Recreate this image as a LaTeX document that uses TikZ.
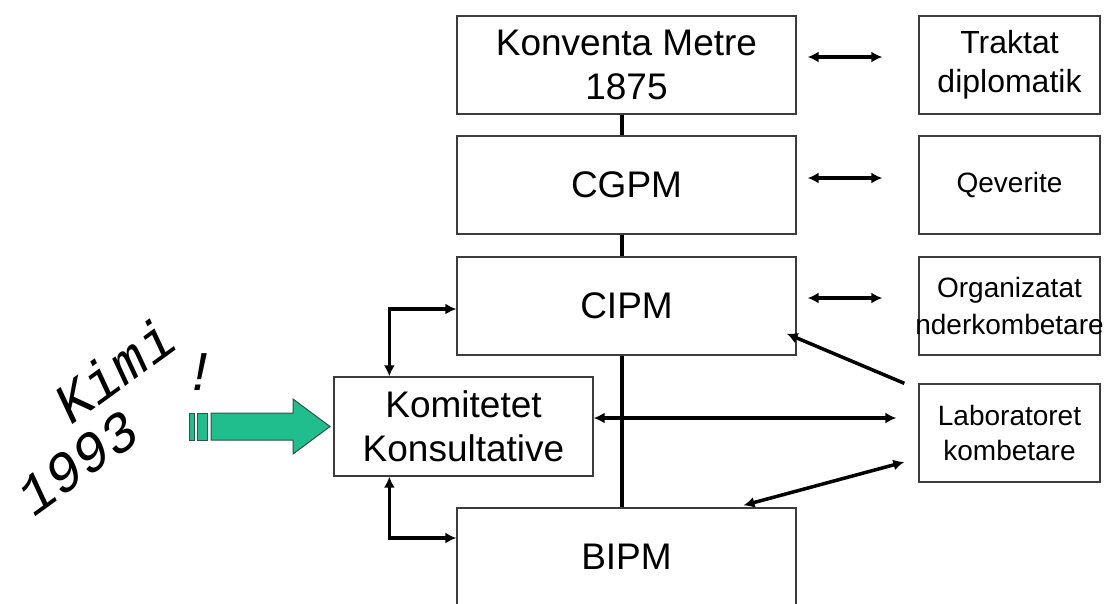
\documentclass[tikz,border=0pt]{standalone}
\usepackage{fontspec}
\setmainfont{Liberation Sans}
\newfontfamily\kimifont{Liberation Mono}
\usetikzlibrary{arrows.meta}
\definecolor{boxline}{RGB}{60,60,60}
\definecolor{kimigreen}{RGB}{32,190,140}
\definecolor{kimiedge}{RGB}{50,80,70}
\begin{document}
\begin{tikzpicture}[x=1pt,y=-1pt,
  box/.style={draw=boxline,line width=1.3pt,minimum width=339pt,minimum height=98pt,
    inner sep=0pt,align=center,font=\fontsize{37}{44}\selectfont},
  sidebox/.style={draw=boxline,line width=1.3pt,minimum width=181pt,minimum height=98pt,
    inner sep=0pt,align=center},
  link/.style={line width=3.5pt,{Latex[length=11pt,width=11pt]}-{Latex[length=11pt,width=11pt]}},
  spine/.style={line width=4pt},
  kimi/.style={rotate=36,inner sep=0pt,font=\kimifont\itshape\fontsize{56}{56}\selectfont}]

\useasboundingbox (0,0) rectangle (1106,603);
\clip (0,0) rectangle (1106,603);

% main column
\node[box] (konventa) at (626.5,65) {Konventa Metre\\1875};
\node[box] (cgpm) at (626.5,185) {CGPM};
\node[box] (cipm) at (626.5,306) {CIPM};
\node[box] (bipm) at (626.5,557) {BIPM};
\node[box,minimum width=259pt,minimum height=99pt] (komitetet) at (463.5,426.5) {Komitetet\\Konsultative};

% right column
\node[sidebox,font=\fontsize{32}{39}\selectfont] (traktat) at (1009.5,65) {Traktat\\diplomatik};
\node[sidebox,font=\fontsize{28}{34}\selectfont] (qeverite) at (1009.5,185) {Qeverite};
\node[sidebox,font=\fontsize{28}{37}\selectfont] (organizatat) at (1009.5,306) {Organizatat\\\makebox[0pt]{nderkombetare}};
\node[sidebox,font=\fontsize{28}{35}\selectfont] (laboratoret) at (1009.5,433) {Laboratoret\\kombetare};

\draw[spine] ([xshift=-5pt]konventa.south) -- ([xshift=-5pt]cgpm.north);
\draw[spine] ([xshift=-5pt]cgpm.south) -- ([xshift=-5pt]cipm.north);
\draw[spine] ([xshift=-5pt]cipm.south) -- ([xshift=-5pt]bipm.north);

\draw[link,shorten <=11pt,shorten >=36pt] ([yshift=8pt]konventa.east) -- ([yshift=8pt]traktat.west);
\draw[link,shorten <=11pt,shorten >=36pt] ([yshift=7pt]cgpm.east) -- ([yshift=7pt]qeverite.west);
\draw[link,shorten <=11pt,shorten >=36pt] ([yshift=8pt]cipm.east) -- ([yshift=8pt]organizatat.west);

\draw[link] ([xshift=56pt]komitetet.north west) |- ([yshift=-3pt]cipm.west);
\draw[link] ([xshift=56pt]komitetet.south west) |- ([yshift=19pt]bipm.west);
\draw[link,shorten >=22pt] ([yshift=8.5pt]komitetet.east) -- ([yshift=8.5pt]komitetet.east -| laboratoret.west);
\draw[link,-{Latex[length=11pt,width=11pt]}] ([xshift=-14pt]laboratoret.north west) -- ([shift={(-10pt,22pt)}]cipm.south east);
\draw[link] ([shift={(-14pt,-29pt)}]laboratoret.west) -- ([shift={(117pt,2pt)}]bipm.north);

% green arrow
\draw[kimiedge,line width=1pt,fill=kimigreen] (211,413) -- (293,413) -- (293,399) -- (330,426.5)
  -- (293,454) -- (293,440) -- (211,440) -- cycle;
\draw[kimiedge,line width=1pt,fill=kimigreen] (189,413) rectangle (194,440);
\draw[kimiedge,line width=1pt,fill=kimigreen] (197,413) rectangle (207,440);

\node[kimi] (kimi) at (114,370) {Kimi};
\node[kimi] (viti) at (78,463) {1993};
\node[inner sep=0pt,font=\kimifont\itshape\fontsize{56}{56}\selectfont] (pikecuditese) at (200,372) {!};

\end{tikzpicture}
\end{document}
